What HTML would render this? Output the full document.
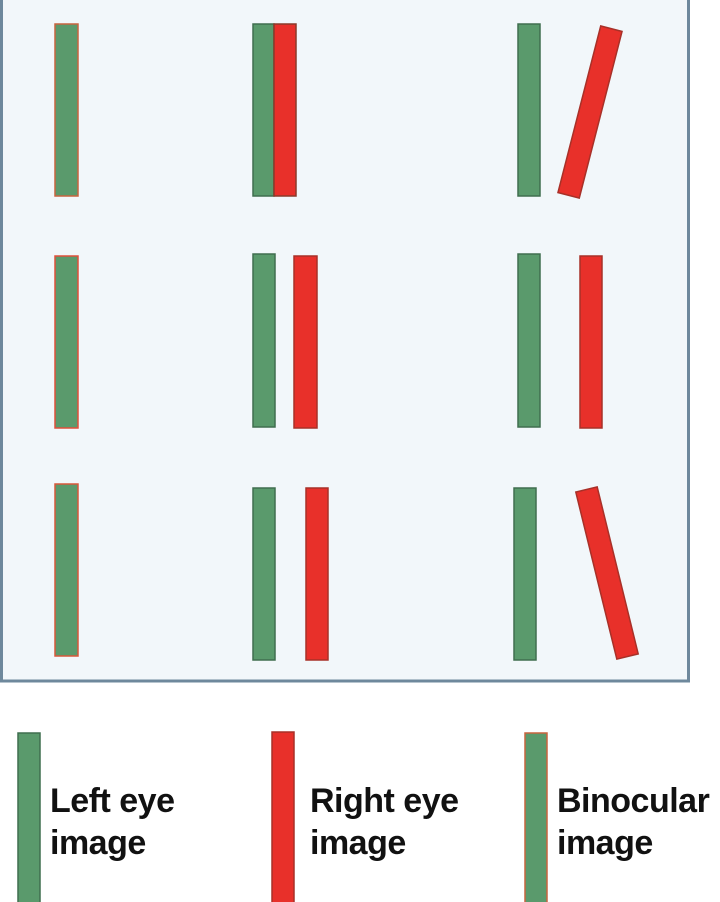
<!DOCTYPE html>
<html><head><style>
body{margin:0;width:720px;height:902px;background:#fff;overflow:hidden;position:relative;font-family:"Liberation Sans",sans-serif;}
.t{position:absolute;font-size:34px;font-weight:bold;color:#111;line-height:42px;letter-spacing:-0.5px;white-space:nowrap;}
</style></head><body>
<svg width="720" height="902" style="position:absolute;left:0;top:0">
<rect x="1.5" y="-2" width="687" height="683" fill="#f2f7fa" stroke="#6e889c" stroke-width="3"/>
<g stroke-width="1.5">
<rect x="55" y="24" width="23" height="172" fill="#5a9a6c" stroke="#c8643e"/>
<rect x="55" y="256" width="23" height="172" fill="#5a9a6c" stroke="#e0503a"/>
<rect x="55" y="484" width="23" height="172" fill="#5a9a6c" stroke="#d8583a"/>
<rect x="253" y="24" width="21" height="172" fill="#5a9a6c" stroke="#3f6e4e"/>
<rect x="274" y="24" width="22" height="172" fill="#e8302a" stroke="#8a3a2a"/>
<rect x="253" y="254" width="22" height="173" fill="#5a9a6c" stroke="#3f6e4e"/>
<rect x="294" y="256" width="23" height="172" fill="#e8302a" stroke="#a83028"/>
<rect x="253" y="488" width="22" height="172" fill="#5a9a6c" stroke="#3f6e4e"/>
<rect x="306" y="488" width="22" height="172" fill="#e8302a" stroke="#a83028"/>
<rect x="518" y="24" width="22" height="172" fill="#5a9a6c" stroke="#3f6e4e"/>
<rect x="-11" y="-86" width="22" height="172" fill="#e8302a" stroke="#a83028" transform="translate(590,112) rotate(14.4)"/>
<rect x="518" y="254" width="22" height="173" fill="#5a9a6c" stroke="#3f6e4e"/>
<rect x="580" y="256" width="22" height="172" fill="#e8302a" stroke="#a83028"/>
<rect x="514" y="488" width="22" height="172" fill="#5a9a6c" stroke="#3f6e4e"/>
<rect x="-11" y="-86" width="22" height="172" fill="#e8302a" stroke="#a83028" transform="translate(607,573) rotate(-13.8)"/>
<rect x="18" y="733" width="22" height="175" fill="#5a9a6c" stroke="#3f6e4e"/>
<rect x="272" y="732" width="22" height="176" fill="#e8302a" stroke="#a83028"/>
<rect x="525" y="733" width="22" height="175" fill="#5a9a6c" stroke="#c8643e"/>
</g>
</svg>
<div class="t" style="left:50px;top:780px">Left eye<br>image</div>
<div class="t" style="left:310px;top:780px">Right eye<br>image</div>
<div class="t" style="left:557px;top:780px">Binocular<br>image</div>
</body></html>
